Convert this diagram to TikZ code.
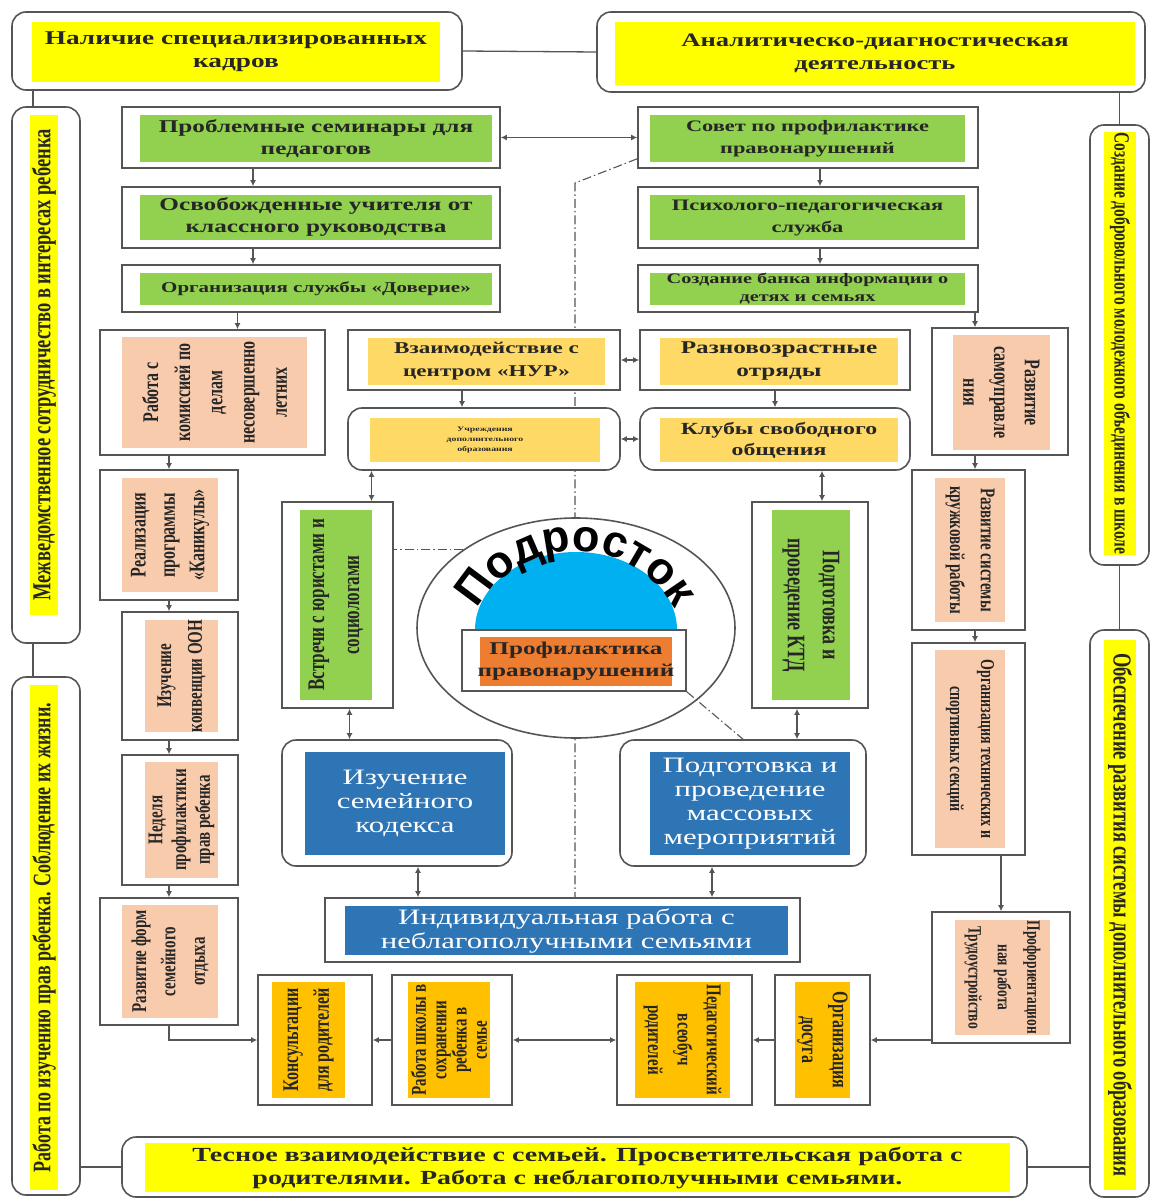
\documentclass[tikz,border=0pt]{standalone}
\usepackage{fontspec}
\setmainfont{Liberation Serif}
\newfontfamily\teenfamily{Liberation Sans}
\usetikzlibrary{fit,shapes.geometric,arrows.meta,decorations.text,backgrounds}

\definecolor{hlyellow}{RGB}{255,255,0}
\definecolor{hlgreen}{RGB}{146,208,80}
\definecolor{hlgold}{RGB}{255,217,102}
\definecolor{hlpeach}{RGB}{248,203,173}
\definecolor{hlamber}{RGB}{255,192,0}
\definecolor{hlblue}{RGB}{46,117,182}
\definecolor{hlorange}{RGB}{237,125,49}
\definecolor{domeblue}{RGB}{0,176,240}
\definecolor{framegray}{RGB}{85,85,85}

\newcommand{\teenfont}{\teenfamily\bfseries\fontsize{45}{45}\selectfont}
% name, frame corners, frame style, fill corners, fill colour, text style, text
\newcommand{\panel}[7]{%
  \node[#3, fit={#2}] (#1) {};
  \node[hl=#5, fit={#4}] (#1-fill) {};
  \node[lbl, #6] (#1-text) at (#1-fill.center) {#7};}

\begin{document}
\begin{tikzpicture}[x=1pt,y=-1pt]
  \tikzset{
    frame/.style={draw=framegray, line width=1.6pt, fill=white, inner sep=0pt},
    roundframe/.style={frame, rounded corners=14pt},
    hl/.style={inner sep=0pt, fill=#1},
    lbl/.style={xscale=1.4, align=center, inner sep=0pt, text=black!85},
    fs/.style 2 args={font=\bfseries\fontsize{#1}{#2}\selectfont},
    fblue/.style={font=\fontsize{22}{24}\selectfont, text=white},
    rup/.style={rotate=90},
    rdown/.style={rotate=-90},
    link/.style={draw=framegray, line width=1.3pt},
    arr/.style={link, -{Latex[length=6pt,width=6pt]}},
    arrb/.style={link, {Latex[length=6pt,width=6pt]}-{Latex[length=6pt,width=6pt]}},
    dashdot/.style={draw=framegray, line width=1.1pt, dash pattern=on 9pt off 3pt on 1.5pt off 3pt}
  }
  \useasboundingbox (0,0) rectangle (1151,1198);

  %TOP
  \panel{tl}{(12,12) (462,90)}{roundframe}{(32,22) (440,82)}{hlyellow}{fs={19.5}{23}}{Наличие специализированных\\кадров}
  \panel{tr}{(597,12) (1145,92)}{roundframe}{(615,22) (1135,85)}{hlyellow}{fs={19}{23}}{Аналитическо-диагностическая\\деятельность}

  %SIDES
  \panel{lv1}{(12,107) (80,643)}{roundframe}{(30,115) (58,615)}{hlyellow}{fs={18.5}{19},rup}{Межведомственное сотрудничество в интересах ребенка}
  \panel{lv2}{(12,677) (80,1195)}{roundframe}{(30,685) (58,1190)}{hlyellow}{fs={18}{19},rup}{Работа по изучению прав ребенка. Соблюдение их жизни.}
  \panel{rv1}{(1090,125) (1149,565)}{roundframe}{(1104,132) (1136,555)}{hlyellow}{fs={15.5}{16},rdown}{Создание добровольного молодежного объединения в школе}
  \panel{rv2}{(1090,630) (1149,1197)}{roundframe}{(1104,640) (1136,1190)}{hlyellow}{fs={18.5}{20},rdown}{Обеспечение развития системы дополнительного образования}
  \panel{bot}{(122,1137) (1027,1197)}{roundframe}{(145,1143) (1010,1192)}{hlyellow}{fs={20}{23}}{Тесное взаимодействие с семьей. Просветительская работа с\\родителями. Работа с неблагополучными семьями.}

  %GREEN ROWS
  \panel{g1}{(122,107) (500,168)}{frame}{(140,115) (492,162)}{hlgreen}{fs={18}{22}}{Проблемные семинары для\\педагогов}
  \panel{g2}{(122,187) (500,248)}{frame}{(140,195) (492,240)}{hlgreen}{fs={18}{22}}{Освобожденные учителя от\\классного руководства}
  \panel{g3}{(122,265) (500,312)}{frame}{(140,273) (492,305)}{hlgreen}{fs={15}{18}}{Организация службы «Доверие»}
  \panel{r1}{(638,107) (978,168)}{frame}{(650,115) (965,162)}{hlgreen}{fs={16}{22}}{Совет по профилактике\\правонарушений}
  \panel{r2}{(638,187) (978,248)}{frame}{(650,195) (965,240)}{hlgreen}{fs={16}{22}}{Психолого-педагогическая\\служба}
  \panel{r3}{(638,265) (978,312)}{frame}{(650,273) (965,305)}{hlgreen}{fs={14.5}{18}}{Создание банка информации о\\детях и семьях}

  %MIDDLE
  \panel{o1}{(348,330) (620,390)}{frame}{(368,338) (605,385)}{hlgold}{fs={16.5}{23}}{Взаимодействие с\\центром «НУР»}
  \panel{o2}{(640,330) (910,390)}{frame}{(660,338) (898,385)}{hlgold}{fs={18}{23}}{Разновозрастные\\отряды}
  \panel{o3}{(348,408) (620,470)}{roundframe}{(370,418) (600,462)}{hlgold}{fs={7}{10}}{Учреждения\\дополнительного\\образования}
  \panel{o4}{(640,408) (910,470)}{roundframe}{(660,418) (898,462)}{hlgold}{fs={17}{21}}{Клубы свободного\\общения}

  %LEFT COLUMN
  \panel{pl1}{(100,330) (325,455)}{frame}{(122,337) (307,448)}{hlpeach}{fs={16}{23},rup}{Работа с\\комиссией по\\делам\\несовершенно\\летних}
  \panel{pl2}{(100,470) (238,600)}{frame}{(122,478) (218,592)}{hlpeach}{fs={16}{21},rup}{Реализация\\программы\\«Каникулы»}
  \panel{pl3}{(122,612) (238,740)}{frame}{(145,620) (218,732)}{hlpeach}{fs={15}{22},rup}{Изучение\\конвенции ООН}
  \panel{pl4}{(122,755) (238,885)}{frame}{(145,762) (218,878)}{hlpeach}{fs={15}{17},rup}{Неделя\\профилактики\\прав ребенка}
  \panel{pl5}{(100,898) (238,1025)}{frame}{(122,905) (218,1018)}{hlpeach}{fs={15}{21},rup}{Развитие форм\\семейного\\отдыха}

  %RIGHT COLUMN
  \panel{pr1}{(932,328) (1068,455)}{frame}{(953,335) (1050,450)}{hlpeach}{fs={16}{22},rdown}{Развитие\\самоуправле\\ния}
  \panel{pr2}{(912,470) (1025,630)}{frame}{(935,478) (1005,622)}{hlpeach}{fs={15}{22},rdown}{Развитие системы\\кружковой работы}
  \panel{pr3}{(912,643) (1025,855)}{frame}{(935,650) (1005,848)}{hlpeach}{fs={14}{22},rdown}{Организация технических и\\спортивных секций}
  \panel{pr4}{(932,912) (1070,1043)}{frame}{(955,920) (1050,1035)}{hlpeach}{fs={13.5}{21},rdown}{Профориентацион\\ная работа\\Трудоустройство}

  %GREEN VERTICAL
  \panel{v1}{(282,502) (393,708)}{frame}{(300,510) (372,700)}{hlgreen}{fs={17}{25},rup}{Встречи с юристами и\\социологами}
  \panel{v2}{(752,502) (868,708)}{frame}{(772,510) (850,700)}{hlgreen}{fs={18}{25},rdown}{Подготовка и\\проведение КТД}

  %CENTRE
  \node[ellipse, draw=framegray, line width=1.6pt, fill=white, minimum width=318pt, minimum height=220pt] (teen) at (576,628) {};
  \fill[domeblue] (475,630) arc[start angle=180, end angle=360, x radius=101, y radius=78] -- cycle;
  \coordinate (arch) at (576,663);
  \path[decorate, decoration={text along path, text align=center, text={|\teenfont|Подросток}}]
    ([shift={(204:112)}]arch) arc[start angle=204, end angle=336, radius=112];
  \panel{prof}{(462,630) (686,691)}{frame}{(480,637) (672,686)}{hlorange}{fs={18}{22}}{Профилактика\\правонарушений}

  %BLUE
  \panel{b1}{(282,740) (512,866)}{roundframe}{(305,752) (505,855)}{hlblue}{fblue}{Изучение\\семейного\\кодекса}
  \panel{b2}{(620,740) (866,866)}{roundframe}{(650,752) (850,855)}{hlblue}{fblue}{Подготовка и\\проведение\\массовых\\мероприятий}
  \panel{b3}{(325,898) (800,962)}{frame}{(345,906) (788,955)}{hlblue}{fblue}{Индивидуальная работа с\\неблагополучными семьями}

  %BOTTOM ROW
  \panel{q1}{(258,975) (372,1105)}{frame}{(272,982) (345,1098)}{hlamber}{fs={16}{22},rup}{Консультации\\для родителей}
  \panel{q2}{(392,975) (512,1105)}{frame}{(408,982) (490,1098)}{hlamber}{fs={15}{14.5},rup}{Работа школы в\\сохранении\\ребенка в\\семье}
  \panel{q3}{(617,975) (752,1105)}{frame}{(635,982) (730,1098)}{hlamber}{fs={15}{21},rdown}{Педагогический\\всеобуч\\родителей}
  \panel{q4}{(775,975) (870,1105)}{frame}{(795,982) (850,1098)}{hlamber}{fs={16}{22},rdown}{Организация\\досуга}

  %FRAME LINKS
  \draw[link] (tl.east) -- (tr.west);
  \draw[link] ([xshift=-13pt]lv1.north) -- ([xshift=-13pt]lv1.north |- tl.south);
  \draw[link] ([xshift=-13pt]lv1.south) -- ([xshift=-13pt]lv2.north);
  \draw[link] (bot.west) -- (bot.west -| lv2.east);
  \draw[link] (rv1.north) -- (rv1.north |- tr.south);
  \draw[link] (rv1.south) -- (rv2.north);
  \draw[link] (bot.east) -- (bot.east -| rv2.west);

  %ARROWS
  \draw[arrb] (g1.east) -- (r1.west);
  \draw[arr] ([xshift=-58pt]g1.south) -- ([xshift=-58pt]g2.north);
  \draw[arr] ([xshift=-58pt]g2.south) -- ([xshift=-58pt]g3.north);
  \draw[arr] ([xshift=12pt]r1.south) -- ([xshift=12pt]r2.north);
  \draw[arr] ([xshift=12pt]r2.south) -- ([xshift=12pt]r3.north);
  \draw[arr] ([xshift=25pt]pl1.north |- g3.south) -- ([xshift=25pt]pl1.north);
  \draw[arr] ([xshift=-25pt]pr1.north |- r3.south) -- ([xshift=-25pt]pr1.north);
  \draw[arr] (pl2.north |- pl1.south) -- (pl2.north);
  \draw[arr] (pl2.south) -- (pl2.south |- pl3.north);
  \draw[arr] (pl3.south -| pl2.south) -- (pl4.north -| pl2.south);
  \draw[arr] (pl5.north |- pl4.south) -- (pl5.north);
  \draw[arr] (pl5.south) |- (q1.west);
  \draw[arr] (q2.west) -- (q1.east);
  \draw[arrb] (q2.east) -- (q3.west);
  \draw[arr] (q4.west) -- (q3.east);
  \draw[arr] (pr4.west |- q4.east) -- (q4.east);
  \draw[arr] ([xshift=-25pt]pr1.south) -- ([xshift=-25pt]pr1.south |- pr2.north);
  \draw[arr] ([xshift=-25pt]pr1.south |- pr2.south) -- ([xshift=-25pt]pr1.south |- pr3.north);
  \draw[arr] (pr4.north |- pr3.south) -- (pr4.north);
  \draw[arr] ([xshift=-22pt]o1.south) -- ([xshift=-22pt]o1.south |- o3.north);
  \draw[arr] (o2.south) -- (o4.north);
  \draw[arrb] (o1.east) -- (o2.west);
  \draw[arrb] (o3.east) -- (o4.west);
  \draw[arrb] ([xshift=34pt]v1.north |- o3.south) -- ([xshift=34pt]v1.north);
  \draw[arrb] ([xshift=12pt]v2.north |- o4.south) -- ([xshift=12pt]v2.north);
  \draw[arrb] ([xshift=12pt]v1.south) -- ([xshift=12pt]v1.south |- b1.north);
  \draw[arrb] ([xshift=-13pt]v2.south) -- ([xshift=-13pt]v2.south |- b2.north);
  \draw[arrb] ([xshift=21pt]b1.south) -- ([xshift=21pt]b1.south |- b3.north);
  \draw[arrb] ([xshift=-31pt]b2.south) -- ([xshift=-31pt]b2.south |- b3.north);

  %DASH-DOT LINES
  \coordinate (spine) at (575,183);
  \begin{scope}[on background layer]
    \draw[dashdot] ([yshift=10pt]r1.south west) -- (spine) -- (spine |- b3.north);
  \end{scope}
  \draw[dashdot] (teen.north west) -- (teen.north west -| v1.east);
  \draw[dashdot] (prof.south east) -- (b2.north);
\end{tikzpicture}
\end{document}
